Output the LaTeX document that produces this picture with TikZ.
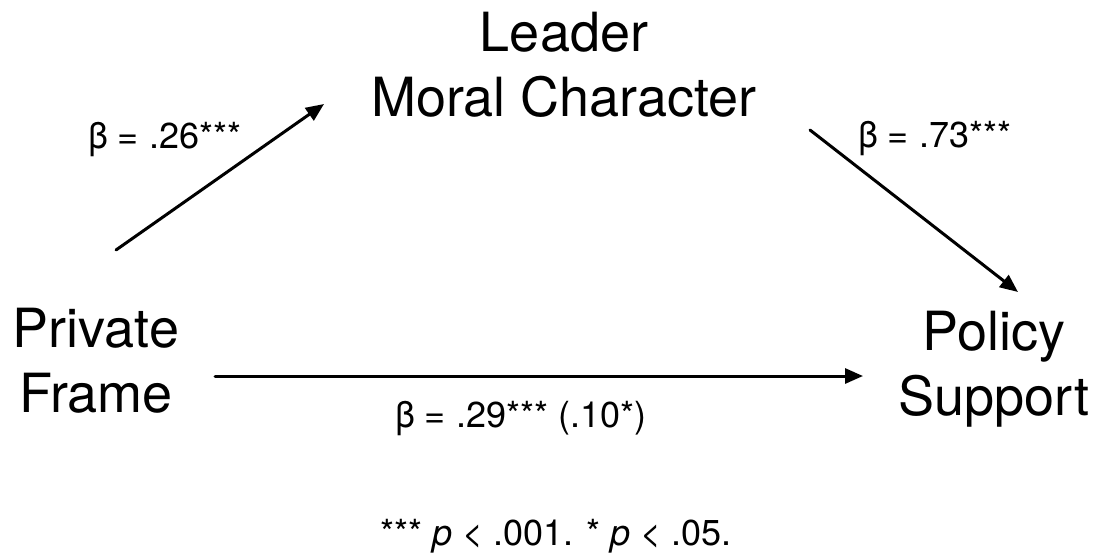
\documentclass[tikz,border=0pt]{standalone}
\usepackage{fontspec}
\setmainfont{TeX Gyre Heros}
\usepackage{tikz}
\usetikzlibrary{arrows.meta}

\tikzset{
  var/.style={align=center,inner sep=0pt,font=\fontsize{54}{65}\selectfont},
  coef/.style={inner sep=0pt,font=\fontsize{36}{40}\selectfont}
}

\begin{document}
\begin{tikzpicture}[x=1pt,y=-1pt,>={Triangle[length=18pt,width=15pt]},line cap=round]
\useasboundingbox (0,0) rectangle (1099,552);
% variables
\node[var,anchor=north] (leader) at (564,12) {Leader\\Moral Character};
\node[var,anchor=north] (private) at (96,308) {Private\\Frame};
\node[var,anchor=north] (policy) at (994,311) {Policy\\Support};
% arrow ends
\coordinate (a1s) at (116,250);
\coordinate (a1e) at (324,104);
\coordinate (a2s) at (810,130);
\coordinate (a2e) at (1018,292);
\coordinate (a3s) at (215,376);
\coordinate (a3e) at (863,376);
\draw[->,line width=3pt] (a1s) -- (a1e);
\draw[->,line width=3pt] (a2s) -- (a2e);
\draw[->,line width=3pt] (a3s) -- (a3e);
% coefficients
\node[coef,anchor=base west] (b1) at (88,148) {β = .26***};
\node[coef,anchor=base west] (b2) at (858,147) {β = .73***};
\node[coef,anchor=base west] (b3) at (395,427) {β = .29*** (.10*)};
\node[coef,anchor=base] (note) at (556,545) {*** \textit{p} < .001. * \textit{p} < .05.};
\end{tikzpicture}
\end{document}
